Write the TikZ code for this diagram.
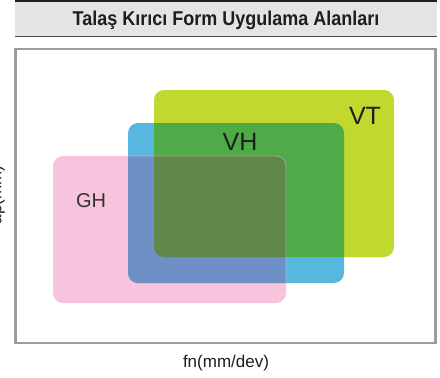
\documentclass[tikz,border=0pt]{standalone}
\usepackage{fontspec}
\setmainfont{Liberation Sans}
\definecolor{cpink}{HTML}{F7C3DD}
\definecolor{cblue}{HTML}{58B7DF}
\definecolor{clime}{HTML}{C1D82F}
\definecolor{cgreen}{HTML}{4FAB48}
\definecolor{cpurp}{HTML}{6E90C5}
\definecolor{colive}{HTML}{62874A}
\definecolor{cband}{HTML}{E4E4E4}
\definecolor{cframe}{HTML}{9C9C9C}
\definecolor{ctxt}{HTML}{1E1E1E}
\tikzset{
  zone/.style={rounded corners=10pt},
  zonelabel/.style={anchor=base, text=ctxt, inner sep=0pt},
  axislabel/.style={anchor=base, text=ctxt, inner sep=0pt, font=\fontsize{17}{20}\selectfont},
}
\begin{document}
\begin{tikzpicture}[x=1pt,y=-1pt]
\useasboundingbox (0,0) rectangle (440,378);
\fill[white] (0,0) rectangle (440,378);
% header
\fill[cband] (15,2) rectangle (437,36);
\draw[line width=2.2pt, black!88] (15,1) -- (437,1);
\draw[line width=1.6pt, black!70] (15,36.5) -- (437,36.5);
\node[anchor=base, inner sep=0pt, text=ctxt, xscale=0.9, font=\fontsize{20}{24}\selectfont\bfseries] (title) at (226,25.7) {Talaş Kırıcı Form Uygulama Alanları};
% frame
\draw[line width=2.5pt, cframe] (15.3,48.8) rectangle (435.5,342.8);
% zones
\def\pinkpath{(53,156) rectangle (286,303)}
\def\bluepath{(128,123) rectangle (344,283)}
\def\limepath{(154,90) rectangle (394,257)}
\fill[cpink, zone] (53,156) rectangle (286,303);
\fill[cblue, zone] (128,123) rectangle (344,283);
\fill[clime, zone] (154,90) rectangle (394,257);
\begin{scope}
  \clip[zone] (128,123) rectangle (344,283);
  \fill[cgreen, zone] (154,90) rectangle (394,257);
\end{scope}
\begin{scope}
  \clip[zone] (53,156) rectangle (286,303);
  \fill[cpurp, zone] (128,123) rectangle (344,283);
  \begin{scope}
    \clip[zone] (128,123) rectangle (344,283);
    \fill[colive, zone] (154,90) rectangle (394,257);
  \end{scope}
\end{scope}
\begin{scope}
  \clip[zone] (128,123) rectangle (344,283);
  \draw[white, opacity=0.3, line width=0.7pt, zone] (53,156) rectangle (286,303);
\end{scope}
% labels
\node[zonelabel, font=\fontsize{20}{24}\selectfont, text=black!80] (gh) at (91,207) {GH};
\node[zonelabel, font=\fontsize{25}{30}\selectfont] (vh) at (240,150) {VH};
\node[zonelabel, font=\fontsize{25}{30}\selectfont] (vt) at (365,124) {VT};
% axes
\node[axislabel] (xl) at (226,367) {fn(mm/dev)};
\node[axislabel, rotate=90] (yl) at (1.5,195) {ap(mm)};
\end{tikzpicture}
\end{document}
